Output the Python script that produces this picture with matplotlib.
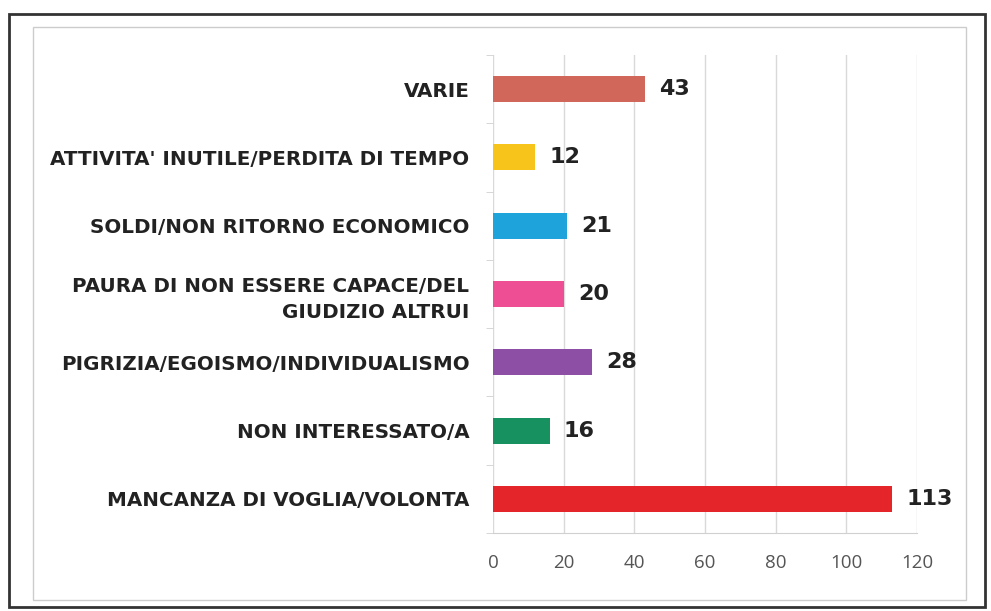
import matplotlib
matplotlib.use("Agg")
import matplotlib.pyplot as plt
from matplotlib.patches import Rectangle

categories = ["MANCANZA DI VOGLIA/VOLONTA", "NON INTERESSATO/A",
              "PIGRIZIA/EGOISMO/INDIVIDUALISMO",
              "PAURA DI NON ESSERE CAPACE/DEL\nGIUDIZIO ALTRUI",
              "SOLDI/NON RITORNO ECONOMICO",
              "ATTIVITA' INUTILE/PERDITA DI TEMPO", "VARIE"]
values = [113, 16, 28, 20, 21, 12, 43]
colors = ["#e4262a", "#17915f", "#8d4ea6", "#ee4e93", "#1ea4da", "#f6c41a", "#d0675a"]
xticks = [0, 20, 40, 60, 80, 100, 120]

W, H = 991, 611
fig = plt.figure(figsize=(W/100, H/100), dpi=100)
fig.patches.append(Rectangle((9/W, 1-607/H), 976/W, 593/H, transform=fig.transFigure,
                             fill=False, edgecolor="#333333", linewidth=2))
fig.patches.append(Rectangle((33/W, 1-600/H), 933/W, 573/H, transform=fig.transFigure,
                             fill=False, edgecolor="#cccccc", linewidth=1))

ax = fig.add_axes([493/W, 1-533/H, 424/W, 478/H])
y = list(range(len(categories)))
ax.barh(y, values, height=0.38, color=colors, zorder=3)
for yi, v in zip(y, values):
    ax.text(v + 4.0, yi, str(v), va="center", ha="left", fontsize=16,
            fontweight="bold", family="DejaVu Sans", color="#222222")
ax.set_xlim(0, 120)
ax.set_ylim(-0.5, 6.5)
ax.set_xticks(xticks)
ax.set_xticklabels([str(t) for t in xticks], fontsize=13.5, color="#555555", family="Open Sans")
ax.set_yticks(y)
ax.set_yticklabels(categories, fontsize=14.3, fontweight="bold", family="DejaVu Sans",
                   color="#222222", linespacing=1.45)
ax.set_yticks([i - 0.5 for i in range(len(categories) + 1)], minor=True)
ax.tick_params(axis="x", length=0, pad=15)
ax.tick_params(axis="y", which="major", length=0, pad=17)
ax.tick_params(axis="y", which="minor", length=5, color="#d0d0d0")
ax.grid(axis="x", color="#d9d9d9", linewidth=1, zorder=0)
for s in ["top", "right", "left"]:
    ax.spines[s].set_visible(False)
ax.spines["bottom"].set_color("#d0d0d0")
fig.savefig("out.png", dpi=100)
